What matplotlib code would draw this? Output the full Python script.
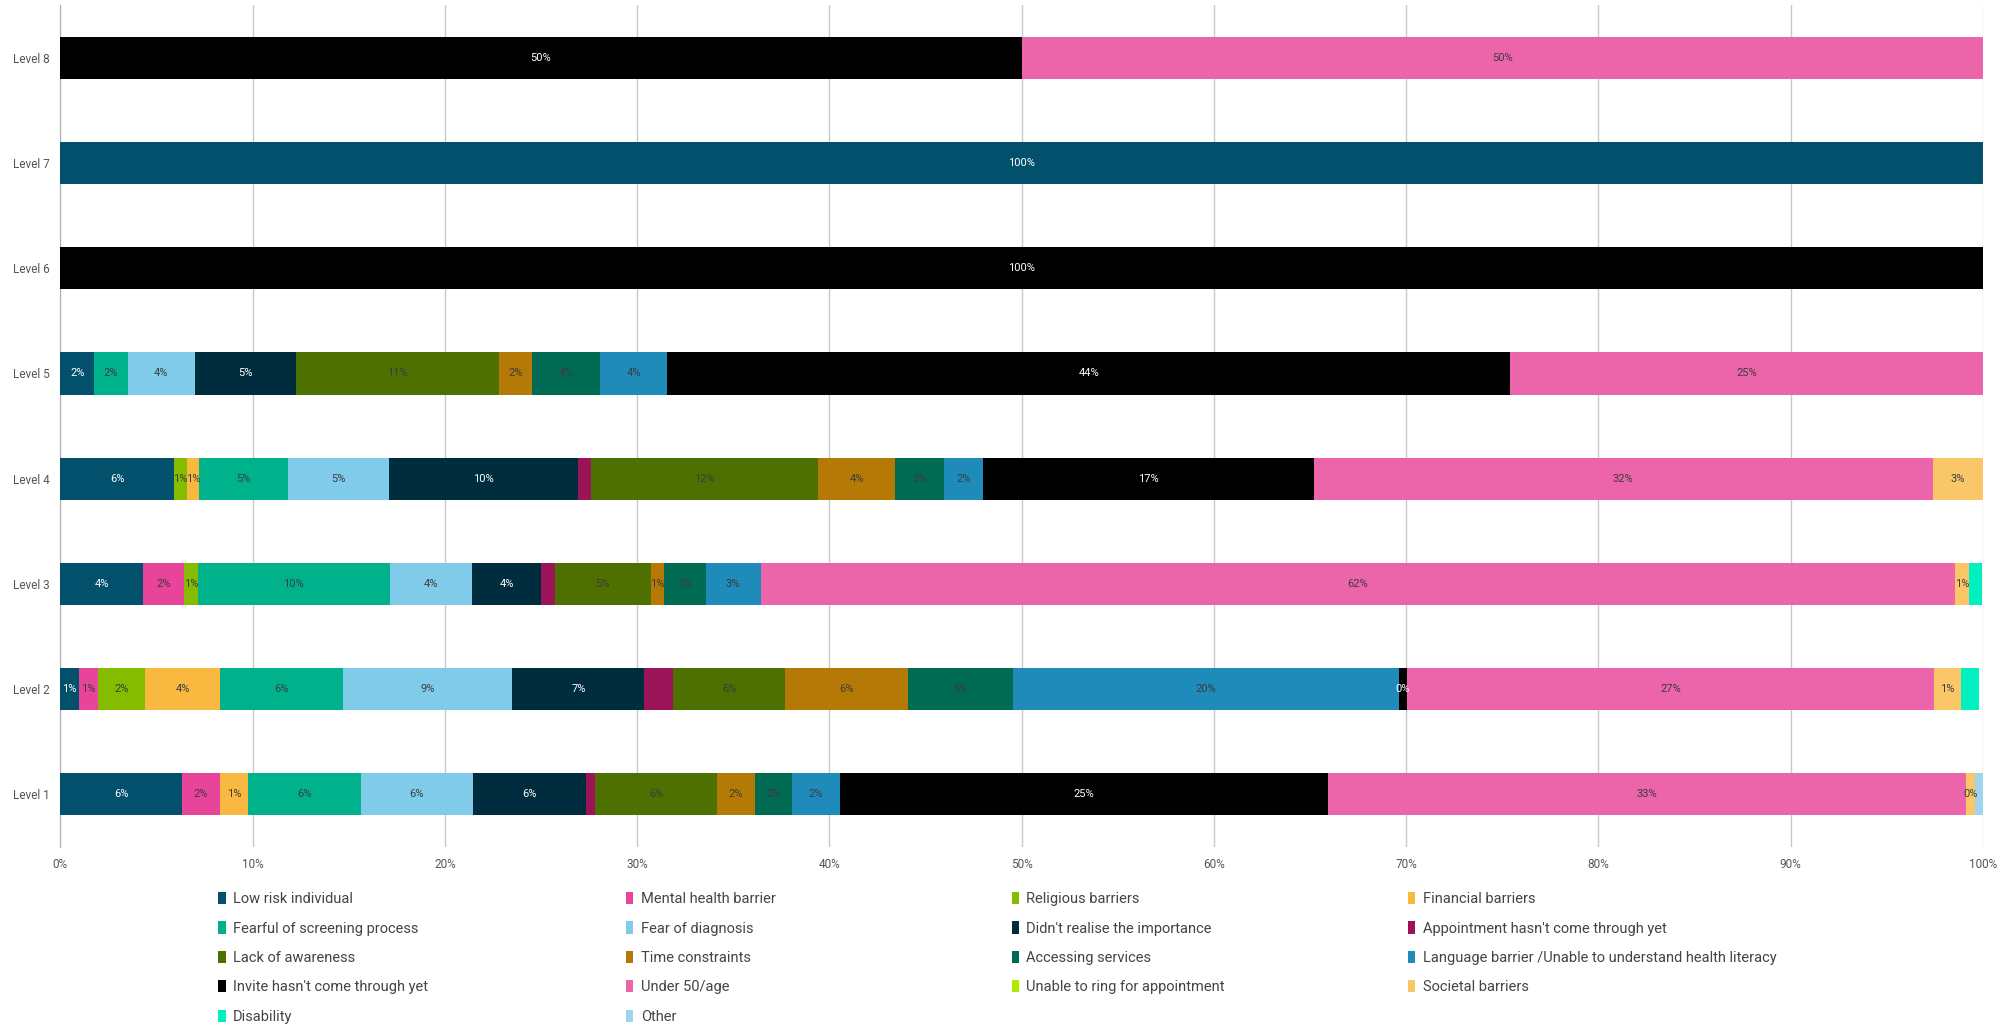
import matplotlib
matplotlib.use("Agg")
import matplotlib.pyplot as plt
import numpy as np

plt.rcParams['font.family'] = ['Roboto', 'DejaVu Sans']

levels = ["Level 1", "Level 2", "Level 3", "Level 4", "Level 5", "Level 6", "Level 7", "Level 8"]

# percent of respondents per level (Level 1 .. Level 8)
low_risk       = [6.34, 0.96, 4.29, 5.90, 1.75, 0, 100, 0]
mental_health  = [1.96, 1.00, 2.14, 0, 0, 0, 0, 0]
religious      = [0, 2.45, 0.71, 0.66, 0, 0, 0, 0]
financial      = [1.46, 3.91, 0, 0.66, 0, 0, 0, 0]
fearful        = [5.87, 6.37, 10.00, 4.61, 1.75, 0, 0, 0]
fear_diagnosis = [5.84, 8.82, 4.29, 5.27, 3.51, 0, 0, 0]
didnt_realise  = [5.87, 6.87, 3.57, 9.82, 5.26, 0, 0, 0]
appointment    = [0.46, 1.49, 0.71, 0.70, 0, 0, 0, 0]
lack_awareness = [6.37, 5.84, 5.00, 11.80, 10.53, 0, 0, 0]
time_constr    = [1.96, 6.40, 0.71, 4.01, 1.75, 0, 0, 0]
accessing      = [1.92, 5.42, 2.14, 2.55, 3.51, 0, 0, 0]
language       = [2.49, 20.08, 2.86, 2.02, 3.51, 0, 0, 0]
invite         = [25.40, 0.45, 0, 17.20, 43.86, 100, 0, 50]
under_50       = [33.20, 27.40, 62.14, 32.20, 24.56, 0, 0, 50]
unable_ring    = [0, 0, 0, 0, 0, 0, 0, 0]
societal       = [0.48, 1.40, 0.71, 2.60, 0, 0, 0, 0]
disability     = [0, 0.94, 0.71, 0, 0, 0, 0, 0]
other          = [0.45, 0, 0, 0, 0, 0, 0, 0]

series_names = ["Low risk individual", "Mental health barrier", "Religious barriers",
                "Financial barriers", "Fearful of screening process", "Fear of diagnosis",
                "Didn't realise the importance", "Appointment hasn't come through yet",
                "Lack of awareness", "Time constraints", "Accessing services",
                "Language barrier /Unable to understand health literacy",
                "Invite hasn't come through yet", "Under 50/age",
                "Unable to ring for appointment", "Societal barriers", "Disability", "Other"]
series_vals = [low_risk, mental_health, religious, financial, fearful, fear_diagnosis,
               didnt_realise, appointment, lack_awareness, time_constr, accessing,
               language, invite, under_50, unable_ring, societal, disability, other]
colors = ["#02506b", "#e8449a", "#86bc00", "#f9b840", "#00b28c", "#80cbea",
          "#002d3e", "#9b1458", "#4e7000", "#b57a06", "#006b52", "#1e8bbb",
          "#000000", "#ec64aa", "#aeea00", "#f9c768", "#00f0c0", "#a0d4ee"]
no_label = {"Appointment hasn't come through yet", "Unable to ring for appointment",
            "Disability", "Other"}
white_text = {"Low risk individual", "Didn't realise the importance",
              "Invite hasn't come through yet"}

fig = plt.figure(figsize=(20.13, 10.28), dpi=100)
ax = fig.add_axes([0.030, 0.176, 0.955, 0.819])

y = np.arange(len(levels))
left = np.zeros(len(levels))
handles = []
for name, vals, col in zip(series_names, series_vals, colors):
    vals = np.array(vals, dtype=float)
    b = ax.barh(y, vals, left=left, height=0.4, color=col, label=name, zorder=3)
    handles.append(b)
    if name not in no_label:
        tc = "white" if name in white_text else "#3c3c3c"
        for yi, (l, v) in enumerate(zip(left, vals)):
            if v > 0:
                ax.text(l + v / 2, yi, f"{v:.0f}%", ha="center", va="center",
                        fontsize=8, color=tc, zorder=4)
    left += vals

ax.set_xlim(0, 100)
ax.set_ylim(-0.5, 7.5)
ax.set_yticks(y)
ax.set_yticklabels(levels, fontsize=8.5, color="#555555")
ax.set_xticks(np.arange(0, 101, 10))
ax.set_xticklabels([f"{t}%" for t in range(0, 101, 10)], fontsize=8.5, color="#555555")
ax.tick_params(axis="both", length=0, pad=8)
ax.grid(axis="x", color="#c8c8c8", linewidth=1, zorder=0)
for s in ["top", "right", "bottom"]:
    ax.spines[s].set_visible(False)
ax.spines["left"].set_color("#b0b0b0")

# legend laid out row by row in 4 fixed columns
col_x = [0.102, 0.3045, 0.496, 0.693]
for c, x0 in enumerate(col_x):
    idx = list(range(c, len(series_names), 4))
    fig.legend([handles[i] for i in idx], [series_names[i] for i in idx],
               loc="upper left", bbox_to_anchor=(x0, 0.145), frameon=False,
               fontsize=10.5, handlelength=0.5, handleheight=0.9, handletextpad=0.5,
               labelspacing=1.05, labelcolor="#444444")

fig.savefig("out.png", dpi=100)
